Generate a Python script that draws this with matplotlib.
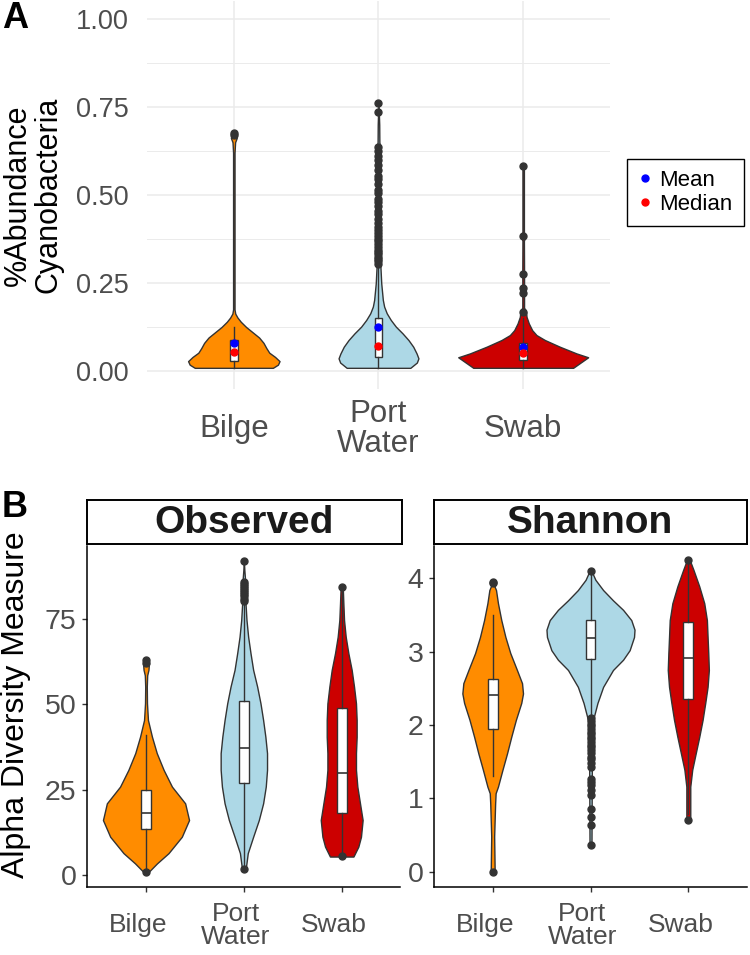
import numpy as np
import matplotlib
matplotlib.use("Agg")
import matplotlib.pyplot as plt
import matplotlib.transforms as mtransforms
from matplotlib.lines import Line2D

plt.rcParams['font.family'] = ['Liberation Sans', 'DejaVu Sans']

# ---------------- data ----------------
CATEGORIES = ["Bilge", "Port Water", "Swab"]
TICK_LABELS = ["Bilge", "Port\nWater", "Swab"]
COLORS = ["#FF8C00", "#ADD8E6", "#CC0000"]

# Panel A: violin outline profiles (value, half-width in category units)
A_BILGE_V = [0.009, 0.018, 0.028, 0.040, 0.052, 0.065, 0.080, 0.095, 0.110, 0.125, 0.140, 0.152, 0.163, 0.175, 0.40, 0.62, 0.650, 0.662, 0.670, 0.676]
A_BILGE_W = [0.270, 0.305, 0.316, 0.285, 0.245, 0.225, 0.205, 0.175, 0.130, 0.085, 0.048, 0.025, 0.010, 0.005, 0.005, 0.005, 0.009, 0.020, 0.015, 0.0]
A_PORT_V = [0.009, 0.024, 0.036, 0.050, 0.069, 0.088, 0.107, 0.126, 0.145, 0.164, 0.183, 0.202, 0.249, 0.307, 0.640, 0.650, 0.700, 0.762]
A_PORT_W = [0.220, 0.265, 0.276, 0.263, 0.240, 0.207, 0.166, 0.120, 0.085, 0.057, 0.039, 0.030, 0.019, 0.012, 0.010, 0.006, 0.005, 0.0]
A_SWAB_V = [0.009, 0.039, 0.050, 0.069, 0.088, 0.102, 0.116, 0.135, 0.154, 0.168, 0.180, 0.215, 0.222, 0.230, 0.236, 0.245, 0.268, 0.276, 0.284, 0.370, 0.383, 0.395, 0.570, 0.583]
A_SWAB_W = [0.345, 0.449, 0.368, 0.253, 0.150, 0.092, 0.062, 0.039, 0.023, 0.020, 0.006, 0.006, 0.015, 0.010, 0.015, 0.006, 0.006, 0.014, 0.006, 0.005, 0.014, 0.005, 0.005, 0.0]

# Panel A: box statistics
A_Q1 = [0.028, 0.039, 0.031]
A_MED = [0.055, 0.072, 0.050]
A_Q3 = [0.088, 0.150, 0.079]
A_WHISLO = [0.009, 0.009, 0.009]
A_WHISHI = [0.126, 0.300, 0.150]
A_MEAN = [0.079, 0.124, 0.069]
A_OUT_BILGE = [0.670, 0.675]
A_OUT_PORT = [0.305, 0.312, 0.318, 0.325, 0.331, 0.338, 0.344, 0.352, 0.360, 0.368, 0.375, 0.383,
              0.392, 0.400, 0.410, 0.420, 0.432, 0.445, 0.455, 0.468, 0.480, 0.490, 0.505, 0.515,
              0.530, 0.545, 0.555, 0.570, 0.585, 0.600, 0.612, 0.625, 0.637, 0.735, 0.762]
A_OUT_SWAB = [0.168, 0.222, 0.236, 0.276, 0.383, 0.583]
A_YTICKS = [0.00, 0.25, 0.50, 0.75, 1.00]
A_YTICK_LABELS = ["0.00", "0.25", "0.50", "0.75", "1.00"]
LEGEND_LABELS = ["Mean", "Median"]

# Panel B Observed: violin profiles
OBS_BILGE_V = [0.5, 1.0, 3.4, 6.4, 11.2, 16.1, 21.0, 25.9, 30.8, 35.7, 40.5, 45.4, 50.3, 55.2, 58.5, 60.1, 62.0, 63.0]
OBS_BILGE_W = [0.0, 0.03, 0.112, 0.23, 0.366, 0.44, 0.40, 0.265, 0.18, 0.11, 0.061, 0.02, 0.01, 0.008, 0.012, 0.025, 0.03, 0.0]
OBS_PORT_V = [1.5, 2.0, 6.4, 11.2, 16.1, 21.0, 25.9, 30.8, 35.7, 40.5, 45.4, 50.3, 55.2, 60.1, 65.0, 69.8, 74.7, 79.6, 85.5, 89.4, 92.1]
OBS_PORT_W = [0.0, 0.02, 0.04, 0.095, 0.153, 0.197, 0.224, 0.237, 0.237, 0.22, 0.197, 0.17, 0.136, 0.095, 0.068, 0.044, 0.027, 0.017, 0.015, 0.005, 0.0]
OBS_SWAB_V = [5.4, 8.3, 11.2, 16.1, 21.0, 25.9, 30.8, 35.7, 40.5, 45.4, 50.3, 55.2, 60.1, 65.0, 69.8, 74.7, 79.6, 83.5, 84.3]
OBS_SWAB_W = [0.12, 0.17, 0.197, 0.214, 0.187, 0.16, 0.146, 0.146, 0.153, 0.153, 0.146, 0.126, 0.102, 0.068, 0.041, 0.024, 0.017, 0.012, 0.0]
OBS_Q1 = [13.4, 27.0, 18.1]
OBS_MED = [18.3, 37.3, 30.0]
OBS_Q3 = [24.9, 51.1, 48.8]
OBS_WHISLO = [1.5, 2.5, 6.0]
OBS_WHISHI = [41.0, 79.5, 83.5]
OBS_OUT_BILGE = [0.8, 62.2, 63.0]
OBS_OUT_PORT = [1.9, 80.2, 80.9, 81.6, 82.2, 82.9, 83.5, 84.1, 84.7, 85.3, 85.9, 92.1]
OBS_OUT_SWAB = [5.6, 84.3]
OBS_YTICKS = [0, 25, 50, 75]

# Panel B Shannon: violin profiles
SHA_BILGE_V = [0.0, 0.02, 0.48, 0.93, 1.07, 1.16, 1.39, 1.61, 1.84, 2.07, 2.30, 2.43, 2.57, 2.75, 2.98, 3.20, 3.43, 3.66, 3.84, 3.95]
SHA_BILGE_W = [0.0, 0.02, 0.015, 0.025, 0.03, 0.054, 0.10, 0.146, 0.19, 0.237, 0.292, 0.31, 0.30, 0.248, 0.18, 0.13, 0.088, 0.054, 0.034, 0.0]
SHA_PORT_V = [0.36, 0.38, 1.84, 2.02, 2.11, 2.30, 2.52, 2.75, 2.89, 3.02, 3.20, 3.30, 3.43, 3.57, 3.70, 3.84, 3.98, 4.07, 4.10]
SHA_PORT_W = [0.0, 0.01, 0.015, 0.02, 0.034, 0.071, 0.129, 0.23, 0.333, 0.40, 0.445, 0.45, 0.417, 0.333, 0.23, 0.129, 0.05, 0.02, 0.0]
SHA_SWAB_V = [0.70, 0.74, 0.93, 1.16, 1.39, 1.61, 1.84, 2.07, 2.30, 2.52, 2.75, 2.98, 3.20, 3.43, 3.66, 3.89, 4.11, 4.23, 4.26]
SHA_SWAB_W = [0.0, 0.02, 0.02, 0.02, 0.04, 0.075, 0.112, 0.146, 0.173, 0.197, 0.21, 0.204, 0.197, 0.19, 0.163, 0.112, 0.054, 0.02, 0.0]
SHA_Q1 = [1.94, 2.90, 2.35]
SHA_MED = [2.41, 3.19, 2.91]
SHA_Q3 = [2.63, 3.43, 3.40]
SHA_WHISLO = [1.30, 2.12, 0.78]
SHA_WHISHI = [3.50, 4.08, 4.24]
SHA_OUT_BILGE = [0.0, 3.93, 3.95]
SHA_OUT_PORT = [2.09, 2.05, 2.02, 1.98, 1.95, 1.91, 1.88, 1.84, 1.81, 1.77, 1.73, 1.70, 1.66, 1.62,
                1.57, 1.53, 1.48, 1.43, 1.27, 1.22, 1.18, 1.11, 1.05, 0.86, 0.75, 0.64, 0.36, 4.10]
SHA_OUT_SWAB = [0.70, 4.25]
SHA_YTICKS = [0, 1, 2, 3, 4]

# ---------------- styling ----------------
W, H = 750, 955
OUTLINE = "#333333"
TICKCOL = "#4D4D4D"
POS = [1, 2, 3]

fig = plt.figure(figsize=(W / 100, H / 100), dpi=100)


def px_axes(x0, y0, x1, y1):
    return fig.add_axes([x0 / W, 1 - y1 / H, (x1 - x0) / W, (y1 - y0) / H])


def draw_violins(ax, profiles):
    for pos, (v, w), col in zip(POS, profiles, COLORS):
        v = np.asarray(v)
        w = np.asarray(w)
        ax.fill_betweenx(v, pos - w, pos + w, facecolor=col, edgecolor=OUTLINE,
                         linewidth=1.0, zorder=2)


def draw_boxes(ax, q1, med, q3, lo, hi, outs, width, fsize):
    stats = []
    for i in range(3):
        stats.append(dict(q1=q1[i], med=med[i], q3=q3[i], whislo=lo[i], whishi=hi[i],
                          fliers=outs[i]))
    ax.bxp(stats, positions=POS, widths=width, patch_artist=True, showcaps=False,
           boxprops=dict(facecolor="white", edgecolor=OUTLINE, linewidth=1.0),
           medianprops=dict(color=OUTLINE, linewidth=1.2),
           whiskerprops=dict(color=OUTLINE, linewidth=1.0),
           flierprops=dict(marker="o", markerfacecolor=OUTLINE, markeredgecolor=OUTLINE,
                           markersize=fsize, linestyle="none"),
           zorder=3, manage_ticks=False)


# ---------------- Panel A ----------------
axA = px_axes(147, 1.4, 610, 388.6)
axA.set_xlim(0.4, 3.6)
axA.set_ylim(-0.05, 1.05)
for s in axA.spines.values():
    s.set_visible(False)
axA.set_yticks(A_YTICKS)
axA.set_yticks([0.125, 0.375, 0.625, 0.875], minor=True)
axA.set_yticklabels(A_YTICK_LABELS)
axA.set_xticks(POS)
axA.set_xticklabels(TICK_LABELS, linespacing=1.0)
axA.grid(True, which="major", color="#EBEBEB", linewidth=1.1)
axA.grid(True, which="minor", axis="y", color="#EBEBEB", linewidth=0.7)
axA.set_axisbelow(True)
axA.tick_params(axis="both", which="both", length=0)
axA.tick_params(axis="y", labelsize=19.5, labelcolor=TICKCOL, pad=13)
axA.tick_params(axis="x", labelsize=22.5, labelcolor=TICKCOL, pad=29)
for lab in axA.get_xticklabels():
    lab.set_verticalalignment("center")

draw_violins(axA, [(A_BILGE_V, A_BILGE_W), (A_PORT_V, A_PORT_W), (A_SWAB_V, A_SWAB_W)])
draw_boxes(axA, A_Q1, A_MED, A_Q3, A_WHISLO, A_WHISHI,
           [A_OUT_BILGE, A_OUT_PORT, A_OUT_SWAB], 0.055, 5)
axA.plot(POS, A_MEAN, linestyle="none", marker="o", color="blue", markersize=5, zorder=5)
axA.plot(POS, A_MED, linestyle="none", marker="o", color="red", markersize=5, zorder=5)

handles = [Line2D([], [], linestyle="none", marker="o", color="blue", markersize=5),
           Line2D([], [], linestyle="none", marker="o", color="red", markersize=5)]
leg = axA.legend(handles, LEGEND_LABELS, loc="upper left",
                 bbox_to_anchor=(627 / W, 1 - 159 / H), bbox_transform=fig.transFigure,
                 frameon=True, fancybox=False, edgecolor="black", framealpha=1,
                 fontsize=16, handlelength=0.6, handletextpad=0.35, borderpad=0.5,
                 labelspacing=0.12, borderaxespad=0)
leg.get_frame().set_linewidth(1.0)

fig.text(33 / W, 1 - 195 / H, "%Abundance\nCyanobacteria", rotation=90, ha="center",
         va="center", fontsize=22, linespacing=1.02, color="black")
fig.text(2 / W, 1 - 28 / H, "A", fontsize=26, fontweight="bold", ha="left", va="baseline")

# ---------------- Panel B ----------------
def setup_b(ax, ylim, yticks):
    ax.set_xlim(0.4, 3.6)
    ax.set_ylim(*ylim)
    ax.spines["top"].set_visible(False)
    ax.spines["right"].set_visible(False)
    ax.spines["left"].set_linewidth(1.1)
    ax.spines["bottom"].set_linewidth(1.1)
    ax.set_xticks(POS)
    ax.set_xticklabels(TICK_LABELS, linespacing=0.95)
    ax.set_yticks(yticks)
    ax.set_yticklabels([str(t) for t in yticks])
    ax.tick_params(axis="both", length=3.6, width=1.0, color=OUTLINE)
    ax.tick_params(axis="y", labelsize=20.5, labelcolor=TICKCOL, pad=4)
    ax.tick_params(axis="x", labelsize=19, labelcolor=TICKCOL, pad=24)
    shift = mtransforms.ScaledTranslation(-8 / 100, 0, fig.dpi_scale_trans)
    for lab in ax.get_xticklabels():
        lab.set_verticalalignment("center")
        lab.set_transform(lab.get_transform() + shift)


def strip(x0, x1, label):
    sa = px_axes(x0, 500, x1, 544)
    sa.set_xticks([])
    sa.set_yticks([])
    for s in sa.spines.values():
        s.set_linewidth(1.4)
        s.set_color("black")
    sa.text(0.5, 0.47, label, ha="center", va="center", fontsize=28,
            fontweight="bold", color="#1A1A1A", transform=sa.transAxes)


axO = px_axes(87.3, 546, 400.4, 886.7)
setup_b(axO, (-3.43, 96.39), OBS_YTICKS)
draw_violins(axO, [(OBS_BILGE_V, OBS_BILGE_W), (OBS_PORT_V, OBS_PORT_W), (OBS_SWAB_V, OBS_SWAB_W)])
draw_boxes(axO, OBS_Q1, OBS_MED, OBS_Q3, OBS_WHISLO, OBS_WHISHI,
           [OBS_OUT_BILGE, OBS_OUT_PORT, OBS_OUT_SWAB], 0.1, 5)
strip(87.3, 401.7, "Observed")

axS = px_axes(434, 546, 747, 886.7)
setup_b(axS, (-0.2045, 4.4405), SHA_YTICKS)
draw_violins(axS, [(SHA_BILGE_V, SHA_BILGE_W), (SHA_PORT_V, SHA_PORT_W), (SHA_SWAB_V, SHA_SWAB_W)])
draw_boxes(axS, SHA_Q1, SHA_MED, SHA_Q3, SHA_WHISLO, SHA_WHISHI,
           [SHA_OUT_BILGE, SHA_OUT_PORT, SHA_OUT_SWAB], 0.1, 5)
strip(434, 747, "Shannon")

fig.text(16 / W, 1 - 705 / H, "Alpha Diversity Measure", rotation=90, ha="center",
         va="center", fontsize=23, color="black")
fig.text(2 / W, 1 - 517 / H, "B", fontsize=26, fontweight="bold", ha="left", va="baseline")

fig.savefig("out.png", dpi=100)
